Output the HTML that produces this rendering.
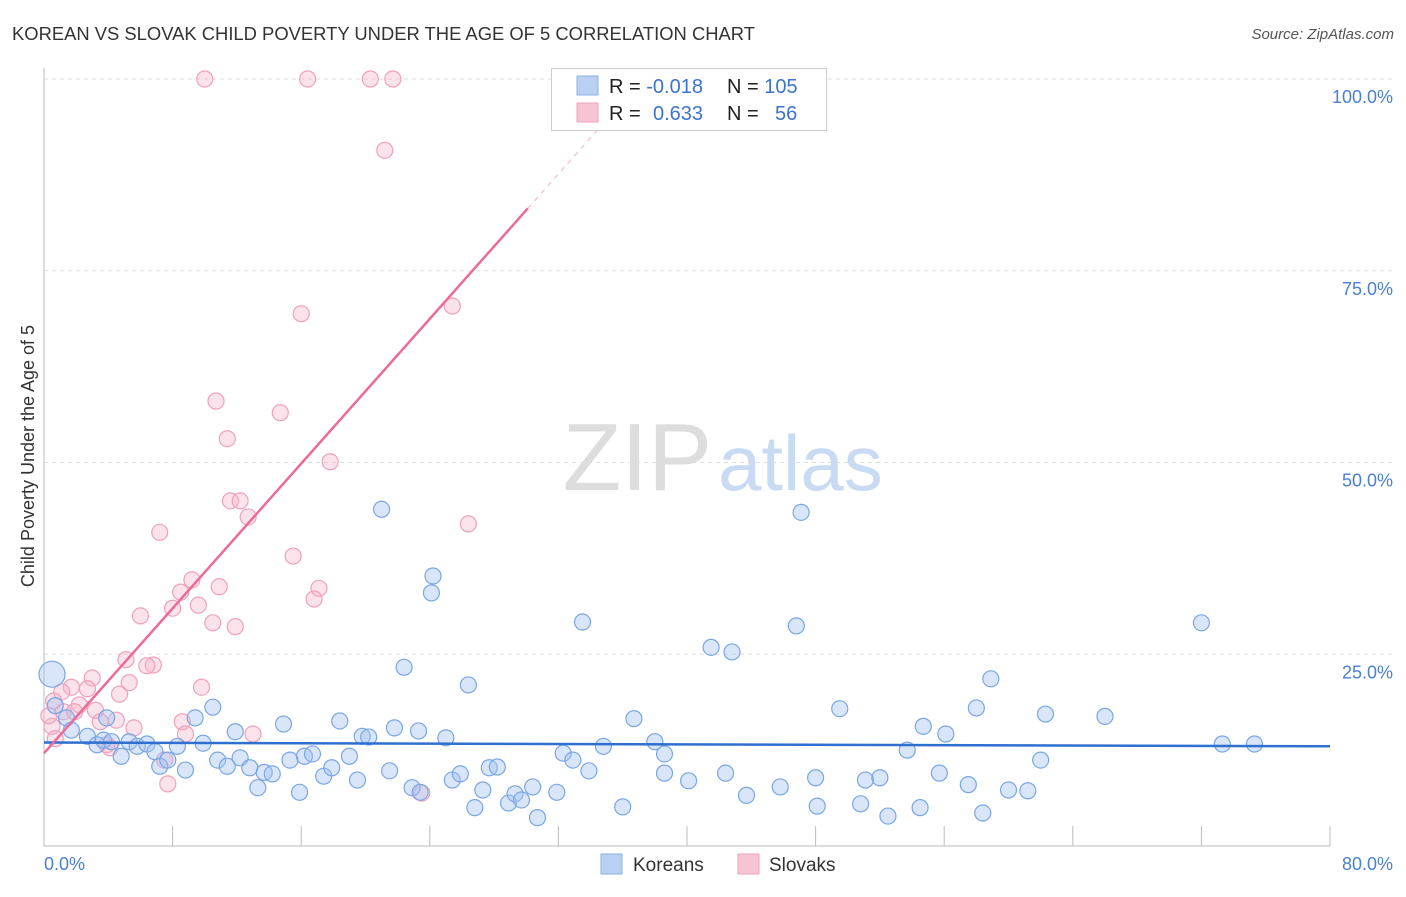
<!DOCTYPE html>
<html><head><meta charset="utf-8"><style>
body{margin:0;background:#fff;font-family:"Liberation Sans",sans-serif}
svg text{font-family:"Liberation Sans",sans-serif}
</style></head><body>
<svg id="c" width="1406" height="892">
<text x="12" y="40" font-size="18.4" fill="#333">KOREAN VS SLOVAK CHILD POVERTY UNDER THE AGE OF 5 CORRELATION CHART</text>
<text x="1394" y="39" font-size="15" fill="#555" font-style="italic" text-anchor="end">Source: ZipAtlas.com</text>
<text transform="translate(34,456) rotate(-90)" font-size="18" fill="#333" text-anchor="middle">Child Poverty Under the Age of 5</text>
<g><text x="712" y="490" font-size="96" fill="#ddd" text-anchor="end" font-family="Liberation Serif">ZIP</text><text x="718" y="490" font-size="78" fill="#c9dbf3">atlas</text></g>
<g id="grid"></g><g id="axes"></g><g id="pts"></g><g id="trend"></g>
<g>
<rect x="551.5" y="68.5" width="275" height="62" fill="#fff" stroke="#ccc"/>
<rect x="577" y="76" width="21" height="19" fill="#b9d0f3" stroke="#8db0e6"/>
<rect x="577" y="103" width="21" height="19" fill="#f7c4d4" stroke="#f0a0bd"/>
<text x="609" y="93" font-size="20" fill="#222">R = <tspan fill="#3b73d1">-0.018</tspan><tspan x="727">N = </tspan><tspan fill="#3b73d1">105</tspan></text>
<text x="609" y="120" font-size="20" fill="#222">R = <tspan x="653" fill="#3b73d1">0.633</tspan><tspan x="727">N = </tspan><tspan x="775" fill="#3b73d1">56</tspan></text>
</g>
<g>
<rect x="601" y="854" width="21" height="20" fill="#b9d0f3" stroke="#8db0e6"/>
<text x="633" y="871" font-size="19" fill="#333">Koreans</text>
<rect x="738" y="854" width="21" height="20" fill="#f7c4d4" stroke="#f0a0bd"/>
<text x="769" y="871" font-size="19" fill="#333">Slovaks</text>
</g>
</svg>
<script>
const yTicks=[25,50,75,100];
const yTickLabels=["25.0%","50.0%","75.0%","100.0%"];
const xTicks=[0,8,16,24,32,40,48,56,64,72,80];
const koreansX=[0.5,0.7,1.4,1.7,2.7,3.3,3.7,4.2,4.8,3.9,5.3,5.8,6.4,6.9,7.2,7.7,8.3,8.8,9.4,9.9,10.5,10.8,11.4,11.9,12.2,12.8,13.3,13.7,14.2,14.9,15.3,15.9,16.2,16.7,17.4,17.9,18.4,19.0,19.5,19.8,20.2,21.0,21.5,21.8,22.4,22.9,23.3,23.4,24.1,24.2,25.0,25.4,25.9,26.4,26.8,27.3,27.7,28.2,28.9,29.3,29.7,30.4,30.7,31.9,32.3,32.9,33.5,33.9,34.8,36.0,36.7,38.0,38.6,38.6,40.1,41.5,42.4,42.8,43.7,45.8,46.8,47.1,48.0,48.1,49.5,50.8,51.1,52.0,52.5,53.7,54.5,54.7,55.7,56.1,57.5,58.0,58.4,58.9,60.0,61.2,62.0,62.3,66.0,72.0,73.3,75.3];
const koreansY=[22.4,18.3,16.7,15.1,14.3,13.2,13.8,13.6,11.7,16.7,13.6,13.0,13.3,12.3,10.4,11.2,13.0,9.9,16.7,13.4,18.1,11.2,10.4,14.9,11.5,10.2,7.6,9.6,9.4,15.9,11.2,7.0,11.7,12.0,9.1,10.2,16.3,11.7,8.6,14.3,14.2,43.9,9.8,15.4,23.3,7.6,15.0,7.0,33.0,35.2,14.1,8.6,9.4,21.0,5.0,7.3,10.2,10.3,5.6,6.8,6.0,7.7,3.7,7.0,12.1,11.2,29.2,9.8,13.0,5.1,16.6,13.6,9.5,12.0,8.5,25.9,9.5,25.3,6.6,7.7,28.7,43.5,8.9,5.2,17.9,5.5,8.6,8.9,3.9,12.5,5.0,15.6,9.5,14.6,8.0,18.0,4.3,21.8,7.3,7.2,11.2,17.2,16.9,29.1,13.3,13.3];
const slovaksX=[10.0,16.4,20.3,21.7,21.2,16.0,25.4,10.7,14.7,11.4,17.8,11.6,12.2,12.7,26.4,7.2,15.5,9.2,10.9,17.1,8.5,16.8,8.0,9.6,6.0,10.5,11.9,5.1,6.8,6.4,3.0,5.3,1.7,2.7,1.1,4.7,9.8,0.6,2.2,3.2,1.2,8.6,3.5,4.5,1.9,5.6,8.8,13.0,0.7,3.9,4.1,7.7,23.5,0.5,7.5,0.3];
const slovaksY=[100,100,100,100,90.7,69.4,70.4,58.0,56.5,53.1,50.1,45.0,45.0,42.9,42.0,40.9,37.8,34.7,33.8,33.6,33.1,32.2,31.0,31.4,30.0,29.1,28.6,24.3,23.6,23.5,21.9,21.3,20.7,20.5,20.1,19.8,20.7,18.9,18.4,17.7,17.5,16.2,16.2,16.4,17.5,15.4,14.6,14.6,14.0,13.2,12.8,8.1,6.9,15.6,11.2,17.0];
const blueTrend=[13.5,13.0];
const pinkTrend=[12.1,2.36];
const NS='http://www.w3.org/2000/svg';
const X=v=>44+v*16.075, Y=v=>846-v*7.67;
function mk(t,a,p){const e=document.createElementNS(NS,t);for(const k in a)e.setAttribute(k,a[k]);document.getElementById(p).appendChild(e);return e;}
yTicks.forEach((t,i)=>{
 const l=mk('line',{x1:44,x2:1393,y1:Y(t),y2:Y(t),stroke:'#ddd','stroke-dasharray':'4,4'},'grid');
 
 
 const tx=mk('text',{x:1393,y:Y(t)+24,'font-size':18,fill:'#4a7fd4','text-anchor':'end'},'axes');
 tx.textContent=yTickLabels[i];
 
 
});
const xa=mk('line',{x1:44,x2:1330,y1:846,y2:846,stroke:'#bbb'},'axes');


const ya=mk('line',{x1:44,x2:44,y1:68,y2:846,stroke:'#bbb'},'axes');


xTicks.forEach(t=>{const l=mk('line',{x1:X(t),x2:X(t),y1:826,y2:846,stroke:'#bbb'},'axes');
 
 });
const x0=mk('text',{x:44,y:870,'font-size':18,fill:'#4a7fd4'},'axes');x0.textContent='0.0%';


const x1=mk('text',{x:1393,y:870,'font-size':18,fill:'#4a7fd4','text-anchor':'end'},'axes');x1.textContent='80.0%';


slovaksX.forEach((v,i)=>{const c=mk('circle',{cx:X(v),cy:Y(slovaksY[i]),r:8,fill:'rgba(246,175,199,0.35)',stroke:'#f0a0bd','stroke-width':1.2},'pts');
 
 });
koreansX.forEach((v,i)=>{const c=mk('circle',{cx:X(v),cy:Y(koreansY[i]),r:i==0?13:8,fill:'rgba(160,192,240,0.4)',stroke:'#7aa6e6','stroke-width':1.2},'pts');
 
 });
const bt=mk('line',{x1:X(0),y1:Y(blueTrend[0]),x2:X(80),y2:Y(blueTrend[1]),stroke:'#2f6fd0','stroke-width':2.5},'trend');


const pt=mk('line',{x1:X(0),y1:Y(pinkTrend[0]),x2:X(30.1),y2:Y(pinkTrend[0]+pinkTrend[1]*30.1),stroke:'#ec6a98','stroke-width':2.5},'trend');


const pd=mk('line',{x1:X(30.1),y1:Y(pinkTrend[0]+pinkTrend[1]*30.1),x2:X(34.6),y2:Y(pinkTrend[0]+pinkTrend[1]*34.6),stroke:'#f0b0c6','stroke-width':1,'stroke-dasharray':'5,5'},'trend');


</script>
</body></html>
